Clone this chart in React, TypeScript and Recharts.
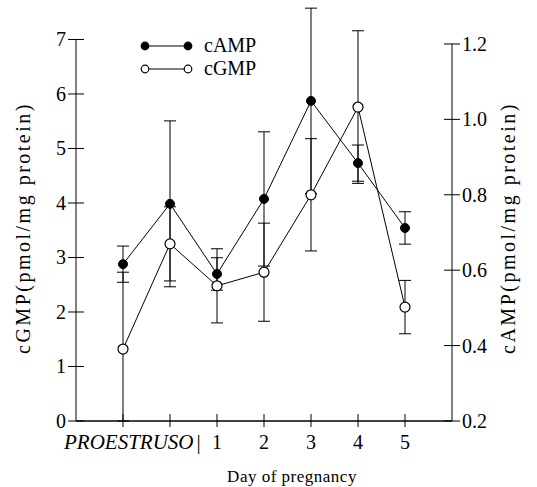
import React from 'react';
import { LineChart, Line, XAxis, YAxis, ErrorBar, ReferenceLine, Legend, Label } from 'recharts';

// x slots: PROESTRUS, day 0 (unlabelled), days 1-5
const positions = [1, 2, 3, 4, 5, 6, 7];
const dayLabels = ['PROESTRUSO', '', '1', '2', '3', '4', '5'];

// cAMP (right axis), mean and error
const campValues = [0.616, 0.776, 0.59, 0.789, 1.049, 0.884, 0.712];
const campErrors = [0.048, 0.22, 0.043, 0.178, 0.246, 0.048, 0.043];

// cGMP (left axis), mean and [down, up] error
const cgmpValues = [1.32, 3.25, 2.48, 2.73, 4.15, 5.76, 2.09];
const cgmpErrors = [[1.32, 1.41], [0.68, 0.68], [0.68, 0.68], [0.9, 0.9], [1.03, 1.03], [1.4, 1.4], [0.49, 0.49]];

const cgmpTicks = [0, 1, 2, 3, 4, 5, 6, 7];
const campTicks = [0.2, 0.4, 0.6, 0.8, 1.0, 1.2];

const data = positions.map((pos, i) => ({
  pos,
  camp: campValues[i],
  campErr: campErrors[i],
  cgmp: cgmpValues[i],
  cgmpErr: cgmpErrors[i],
}));

const FONT = '"Liberation Serif", "DejaVu Serif", serif';
const PLOT_LEFT = 76;
const PLOT_RIGHT = 452;
const PLOT_BOTTOM = 421;

function DayTick(props: any) {
  const { x, payload } = props;
  const i = positions.indexOf(payload.value);
  const label = dayLabels[i];
  return (
    <g>
      <line x1={x} x2={x} y1={PLOT_BOTTOM - 7} y2={PLOT_BOTTOM + 6} stroke="#000" strokeWidth={1} />
      {i === 0 ? (
        <text x={x - 59} y={449} fontFamily={FONT} fontSize={21} fontStyle="italic" fill="#000">
          {label}
          <tspan fontStyle="normal" dx={3}>|</tspan>
        </text>
      ) : (
        <text x={x} y={449} fontFamily={FONT} fontSize={20} textAnchor="middle" fill="#000">
          {label}
        </text>
      )}
    </g>
  );
}

function LeftTick(props: any) {
  const { y, payload } = props;
  return (
    <g>
      <line x1={PLOT_LEFT - 8} x2={PLOT_LEFT + 8} y1={y} y2={y} stroke="#000" />
      <text x={PLOT_LEFT - 10} y={y + 7} fontFamily={FONT} fontSize={20} textAnchor="end" fill="#000">
        {payload.value}
      </text>
    </g>
  );
}

function RightTick(props: any) {
  const { y, payload } = props;
  return (
    <g>
      <line x1={PLOT_RIGHT - 8} x2={PLOT_RIGHT + 8} y1={y} y2={y} stroke="#000" />
      <text x={PLOT_RIGHT + 10} y={y + 7} fontFamily={FONT} fontSize={20} textAnchor="start" fill="#000">
        {Number(payload.value).toFixed(1)}
      </text>
    </g>
  );
}

const markerFill: Record<string, string> = { cAMP: '#000', cGMP: '#fff' };

function renderLegend(props: any) {
  const items = props.payload || [];
  return (
    <div style={{ fontFamily: FONT, fontSize: 20 }}>
      {items.map((item: any) => (
        <div key={item.value} style={{ display: 'flex', alignItems: 'center', height: 23 }}>
          <svg width={56} height={12}>
            <line x1={5} x2={48} y1={6} y2={6} stroke="#000" />
            <circle cx={5} cy={6} r={3.8} fill={markerFill[item.value]} stroke="#000" strokeWidth={1.2} />
            <circle cx={48} cy={6} r={3.8} fill={markerFill[item.value]} stroke="#000" strokeWidth={1.2} />
          </svg>
          <span style={{ marginLeft: 8 }}>{item.value}</span>
        </div>
      ))}
    </div>
  );
}

function SideTitle({ text, cx }: any) {
  const cy = 228;
  return (
    <text
      x={cx}
      y={cy}
      transform={`rotate(-90 ${cx} ${cy})`}
      textAnchor="middle"
      dominantBaseline="central"
      fontFamily={FONT}
      fontSize={20}
      letterSpacing={2.5}
      fill="#000"
    >
      {text}
    </text>
  );
}

export default function App() {
  return (
    <div style={{ position: 'absolute', left: 0, top: 0, background: '#fff' }}>
      <LineChart width={537} height={487} data={data} margin={{ top: 4, right: 0, bottom: 0, left: 0 }}>
        <XAxis
          dataKey="pos"
          type="number"
          domain={[0, 8]}
          ticks={positions}
          height={66}
          tick={<DayTick />}
          tickLine={false}
          axisLine={{ stroke: '#000', strokeWidth: 1.3 }}
          interval={0}
        >
          <Label
            position="insideBottom"
            content={() => (
              <text x={292} y={482} textAnchor="middle" fontFamily={FONT} fontSize={17} letterSpacing={0.5} fill="#000">
                Day of pregnancy
              </text>
            )}
          />
        </XAxis>
        <YAxis
          yAxisId="left"
          orientation="left"
          width={76}
          domain={[0, 7.651]}
          ticks={cgmpTicks}
          allowDataOverflow
          tick={<LeftTick />}
          tickLine={false}
          axisLine={false}
          interval={0}
        >
          <Label content={(p: any) => <SideTitle {...p} text="cGMP(pmol/mg protein)" cx={23} />} />
        </YAxis>
        <YAxis
          yAxisId="right"
          orientation="right"
          width={85}
          domain={[0.2, 1.306]}
          ticks={campTicks}
          allowDataOverflow
          tick={<RightTick />}
          tickLine={false}
          axisLine={false}
          interval={0}
        >
          <Label content={(p: any) => <SideTitle {...p} text="cAMP(pmol/mg protein)" cx={508} />} />
        </YAxis>
        <ReferenceLine
          yAxisId="left"
          segment={[{ x: 0, y: 0 }, { x: 0, y: 7 }]}
          stroke="#000"
          strokeWidth={1}
        />
        <ReferenceLine
          yAxisId="right"
          segment={[{ x: 8, y: 0.2 }, { x: 8, y: 1.2 }]}
          stroke="#000"
          strokeWidth={1}
        />
        <Legend
          layout="horizontal"
          verticalAlign="middle"
          align="center"
          content={renderLegend}
          wrapperStyle={{ left: 140, top: 34, width: 150 }}
        />
        <Line
          yAxisId="right"
          name="cAMP"
          dataKey="camp"
          stroke="#000"
          strokeWidth={1}
          dot={{ r: 4.5, fill: '#000', stroke: '#000', strokeWidth: 1 }}
          isAnimationActive={false}
        >
          <ErrorBar dataKey="campErr" direction="y" width={6} stroke="#000" strokeWidth={1} />
        </Line>
        <Line
          yAxisId="left"
          name="cGMP"
          dataKey="cgmp"
          stroke="#000"
          strokeWidth={1}
          dot={{ r: 5, fill: '#fff', stroke: '#000', strokeWidth: 1.2 }}
          isAnimationActive={false}
        >
          <ErrorBar dataKey="cgmpErr" direction="y" width={6} stroke="#000" strokeWidth={1} />
        </Line>
      </LineChart>
    </div>
  );
}
